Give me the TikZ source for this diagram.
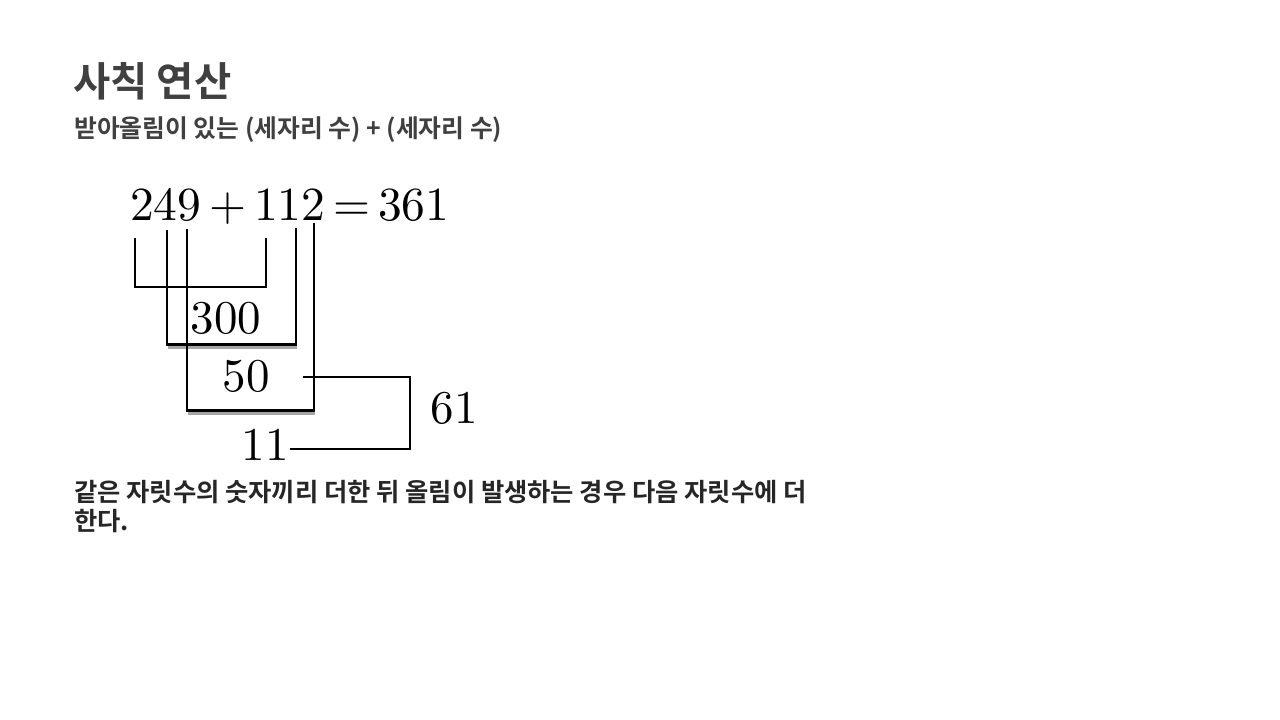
\documentclass[tikz,border=0pt]{standalone}
\usepackage{fontspec}
\usepackage{unicode-math}
\setmathfont{Latin Modern Math}
\newfontfamily\krfont{Noto Sans CJK KR}[BoldFont={Noto Sans CJK KR Bold}]
\definecolor{titlegray}{HTML}{404040}
\definecolor{bodygray}{HTML}{262626}
\tikzset{
  lnk/.style={line width=2.2pt, black},
  shadowln/.style={line width=4pt, black!35},
  thickln/.style={line width=3pt, black},
  num/.style={inner sep=0pt, font=\fontsize{47}{56}\selectfont, anchor=base}
}
\begin{document}
\begin{tikzpicture}[x=1pt,y=-1pt]
\useasboundingbox[fill=white] (0,0) rectangle (1280,720);
% headings
\node[anchor=base west, inner sep=0pt, text=titlegray, font=\krfont\bfseries\fontsize{40.5}{48}\selectfont] (title) at (73,96) {사칙 연산};
\node[anchor=base west, inner sep=0pt, text=titlegray, font=\krfont\bfseries\fontsize{24.8}{28}\selectfont] (sub) at (74,137) {받아올림이 있는 (세자리 수) + (세자리 수)};
% equation
\node[anchor=base west, inner sep=0pt, font=\fontsize{47.5}{56}\selectfont] (eq) at (130,220)
  {\medmuskip=3mu\thickmuskip=3mu $249+112=361$};
% bracket 1
\draw[lnk] (135,238) -- (135,287) -- (266,287) -- (266,238);
% bracket 2
\draw[shadowln] (168,347) -- (297,347);
\draw[lnk] (167,230) -- (167,344);
\draw[lnk] (296,228) -- (296,344);
\draw[thickln] (166,344) -- (297,344);
% bracket 3
\draw[shadowln] (188,413) -- (315,413);
\draw[lnk] (187,229) -- (187,410);
\draw[lnk] (314,223) -- (314,410);
\draw[thickln] (186,410) -- (315,410);
% partial sums
\node[num] (s300) at (226,333) {$300$};
\node[num] (s50) at (246,391) {$50$};
\node[num] (s11) at (265,460) {$11$};
\node[num] (s61) at (454,423) {$61$};
% carry bracket
\coordinate (c1) at (303,377);
\coordinate (c2) at (290,449);
\draw[lnk] (c1) -- (410,377) -- (410,449) -- (c2);
% bottom text
\node[anchor=base west, inner sep=0pt, align=left, text=bodygray, font=\krfont\bfseries\fontsize{25.3}{29}\selectfont] (note) at (74,530)
  {같은 자릿수의 숫자끼리 더한 뒤 올림이 발생하는 경우 다음 자릿수에 더\\한다.};
\end{tikzpicture}
\end{document}
